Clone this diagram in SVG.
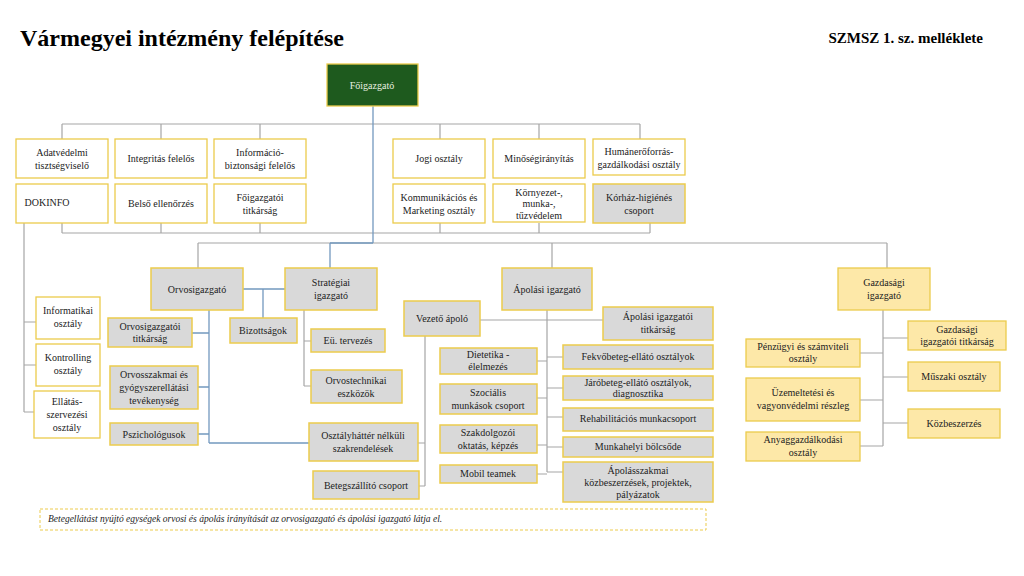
<svg xmlns="http://www.w3.org/2000/svg" width="1024" height="576" viewBox="0 0 1024 576" font-family="Times New Roman, Liberation Serif, DejaVu Serif, serif">
<style>
text{font-family:"Times New Roman","Liberation Serif","DejaVu Serif",serif;font-size:10px;fill:#222;text-anchor:middle}
.w{fill:#fff;stroke:#eccb4c;stroke-width:1.3}
.g{fill:#d9d9d9;stroke:#eccb4c;stroke-width:1.5}
.y{fill:#fde8a8;stroke:#eccb4c;stroke-width:1.3}
.l{fill:none;stroke:#a6a6a6;stroke-width:1.2}
.b{fill:none;stroke:#7399bf;stroke-width:1.3}
</style>
<rect width="1024" height="576" fill="#fff"/>
<text x="20" y="46" style="font-size:24px;font-weight:bold;text-anchor:start;fill:#000">Vármegyei intézmény felépítése</text>
<text x="983" y="43" style="font-size:15px;font-weight:bold;text-anchor:end;fill:#000">SZMSZ 1. sz. melléklete</text>
<g id="connectors">
<path class="l" d="M62 124H640M62 124V139M161 124V139M260 124V139M440 124V139M539 124V139M640 124V139"/>
<path class="l" d="M62 233H650M62 223V233M161 223V233M260 223V233M440 223V233M539 223V233M650 223V233"/>
<path class="l" d="M198 243H887M198 243V268M552 243V268M887 243V268"/>
<path class="b" d="M373 106V243M330 243H373M330 243V268"/>
<path class="l" d="M24 223V412M24 322H36M24 365H36M24 412H34"/>
<path class="b" d="M243 289H285M263 289V318"/>
<path class="b" d="M209 310V443M192 333H209M198 387H209M198 434H209M209 443H309"/>
<path class="l" d="M304 310V386M304 341H311M304 386H311"/>
<path class="l" d="M425 336V486M418 443H425M419 486H425"/>
<path class="l" d="M547 310V472M480 320H603M537 361H547M537 398H547M537 445H547M537 474H547M547 357H563M547 388H563M547 417H563M547 447H563M547 472H563"/>
<path class="l" d="M883 310V446M860 353H883M860 400H883M860 446H883M883 338H908M883 377H908M883 423H908"/>
</g>
<g id="n-foigazgato"><rect x="327" y="64" width="91" height="42" fill="#1e5a1e" stroke="#eccb4c" stroke-width="1.3"/><text x="372" y="89" style="fill:#e8f0e0">Főigazgató</text></g>
<g id="n-adatv"><rect class="w" x="16" y="139" width="92" height="39"/><text x="62" y="156">Adatvédelmi</text><text x="62" y="169">tisztségviselő</text></g>
<g id="n-integ"><rect class="w" x="115" y="139" width="92" height="39"/><text x="161" y="162">Integritás felelős</text></g>
<g id="n-info"><rect class="w" x="214" y="139" width="92" height="39"/><text x="260" y="156">Információ-</text><text x="260" y="169">biztonsági felelős</text></g>
<g id="n-jogi"><rect class="w" x="393" y="139" width="92" height="39"/><text x="439" y="162">Jogi osztály</text></g>
<g id="n-minoseg"><rect class="w" x="493" y="139" width="92" height="39"/><text x="539" y="162">Minőségirányítás</text></g>
<g id="n-human"><rect class="w" x="593" y="139" width="92" height="36"/><text x="639" y="155">Humánerőforrás-</text><text x="639" y="168">gazdálkodási osztály</text></g>
<g id="n-dokinfo"><rect class="w" x="16" y="184" width="92" height="39"/><text x="47" y="206">DOKINFO</text></g>
<g id="n-belso"><rect class="w" x="115" y="184" width="92" height="39"/><text x="161" y="207">Belső ellenőrzés</text></g>
<g id="n-fotitk"><rect class="w" x="214" y="184" width="92" height="39"/><text x="260" y="201">Főigazgatói</text><text x="260" y="214">titkárság</text></g>
<g id="n-komm"><rect class="w" x="393" y="184" width="92" height="39"/><text x="439" y="201">Kommunikációs és</text><text x="439" y="214">Marketing osztály</text></g>
<g id="n-korny"><rect class="w" x="493" y="184" width="92" height="38"/><text x="539" y="196">Környezet-,</text><text x="539" y="207">munka-,</text><text x="539" y="219">tűzvédelem</text></g>
<g id="n-korhaz"><rect class="g" x="593" y="184" width="92" height="39"/><text x="639" y="201">Kórház-higiénés</text><text x="639" y="214">csoport</text></g>
<g id="n-infoszt"><rect class="w" x="36" y="297" width="64" height="42"/><text x="68" y="314">Informatikai</text><text x="68" y="327">osztály</text></g>
<g id="n-kontr"><rect class="w" x="36" y="344" width="64" height="42"/><text x="68" y="361">Kontrolling</text><text x="68" y="374">osztály</text></g>
<g id="n-ellat"><rect class="w" x="34" y="391" width="66" height="47"/><text x="67" y="405">Ellátás-</text><text x="67" y="418">szervezési</text><text x="67" y="431">osztály</text></g>
<g id="n-orvig"><rect class="g" x="151" y="268" width="92" height="42"/><text x="197" y="293">Orvosigazgató</text></g>
<g id="n-strat"><rect class="g" x="285" y="268" width="92" height="42"/><text x="331" y="286">Stratégiai</text><text x="331" y="299">igazgató</text></g>
<g id="n-bizott"><rect class="g" x="230" y="318" width="67" height="25"/><text x="263" y="334">Bizottságok</text></g>
<g id="n-orvtitk"><rect class="g" x="108" y="318" width="84" height="29"/><text x="150" y="330">Orvosigazgatói</text><text x="150" y="342">titkárság</text></g>
<g id="n-orvszak"><rect class="g" x="110" y="366" width="88" height="43"/><text x="154" y="378">Orvosszakmai és</text><text x="154" y="391">gyógyszerellátási</text><text x="154" y="404">tevékenység</text></g>
<g id="n-pszich"><rect class="g" x="110" y="423" width="88" height="22"/><text x="154" y="438">Pszichológusok</text></g>
<g id="n-eu"><rect class="g" x="311" y="329" width="74" height="23"/><text x="348" y="344">Eü. tervezés</text></g>
<g id="n-orvtech"><rect class="g" x="311" y="370" width="91" height="33"/><text x="356" y="384">Orvostechnikai</text><text x="356" y="397">eszközök</text></g>
<g id="n-osztaly"><rect class="g" x="309" y="423" width="109" height="38"/><text x="363" y="439">Osztályháttér nélküli</text><text x="363" y="452">szakrendelések</text></g>
<g id="n-beteg"><rect class="g" x="313" y="471" width="106" height="28"/><text x="366" y="489">Betegszállító csoport</text></g>
<g id="n-vezeto"><rect class="g" x="404" y="301" width="76" height="35"/><text x="442" y="322">Vezető ápoló</text></g>
<g id="n-apig"><rect class="g" x="502" y="268" width="90" height="42"/><text x="547" y="293">Ápolási igazgató</text></g>
<g id="n-aptitk"><rect class="g" x="603" y="307" width="110" height="33"/><text x="658" y="320">Ápolási igazgatói</text><text x="658" y="333">titkárság</text></g>
<g id="n-diet"><rect class="g" x="440" y="348" width="97" height="26"/><text x="488" y="358">Dietetika -</text><text x="488" y="370">élelmezés</text></g>
<g id="n-szoc"><rect class="g" x="440" y="384" width="97" height="30"/><text x="488" y="396">Szociális</text><text x="488" y="409">munkások csoport</text></g>
<g id="n-szakd"><rect class="g" x="440" y="425" width="97" height="28"/><text x="488" y="436">Szakdolgozói</text><text x="488" y="449">oktatás, képzés</text></g>
<g id="n-mobil"><rect class="g" x="440" y="465" width="97" height="18"/><text x="488" y="477">Mobil teamek</text></g>
<g id="n-fekvo"><rect class="g" x="563" y="345" width="150" height="24"/><text x="638" y="360">Fekvőbeteg-ellátó osztályok</text></g>
<g id="n-jaro"><rect class="g" x="563" y="376" width="150" height="24"/><text x="638" y="386">Járóbeteg-ellátó osztályok,</text><text x="638" y="397">diagnosztika</text></g>
<g id="n-rehab"><rect class="g" x="563" y="408" width="150" height="23"/><text x="638" y="422">Rehabilitációs munkacsoport</text></g>
<g id="n-bolcs"><rect class="g" x="563" y="437" width="150" height="20"/><text x="638" y="450">Munkahelyi bölcsőde</text></g>
<g id="n-apszak"><rect class="g" x="563" y="462" width="150" height="40"/><text x="638" y="474">Ápolásszakmai</text><text x="638" y="486">közbeszerzések, projektek,</text><text x="638" y="498">pályázatok</text></g>
<g id="n-gazd"><rect class="y" x="838" y="268" width="92" height="42"/><text x="884" y="286">Gazdasági</text><text x="884" y="299">igazgató</text></g>
<g id="n-penz"><rect class="y" x="746" y="339" width="114" height="28"/><text x="803" y="350">Pénzügyi és számviteli</text><text x="803" y="362">osztály</text></g>
<g id="n-uzem"><rect class="y" x="746" y="378" width="114" height="43"/><text x="803" y="396">Üzemeltetési és</text><text x="803" y="409">vagyonvédelmi részleg</text></g>
<g id="n-anyag"><rect class="y" x="746" y="432" width="114" height="29"/><text x="803" y="443">Anyaggazdálkodási</text><text x="803" y="456">osztály</text></g>
<g id="n-gtitk"><rect class="y" x="908" y="321" width="98" height="29"/><text x="957" y="333">Gazdasági</text><text x="957" y="345">igazgatói titkárság</text></g>
<g id="n-muszaki"><rect class="y" x="908" y="362" width="92" height="29"/><text x="954" y="380">Műszaki osztály</text></g>
<g id="n-kozb"><rect class="y" x="908" y="409" width="92" height="29"/><text x="954" y="427">Közbeszerzés</text></g>
<g id="note"><rect x="40" y="509" width="666" height="21" fill="none" stroke="#eccb4c" stroke-dasharray="3,2" stroke-width="1"/><text x="48" y="522" style="font-size:9.5px;font-style:italic;text-anchor:start">Betegellátást nyújtó egységek orvosi és ápolás irányítását az orvosigazgató és ápolási igazgató látja el.</text></g>
</svg>
